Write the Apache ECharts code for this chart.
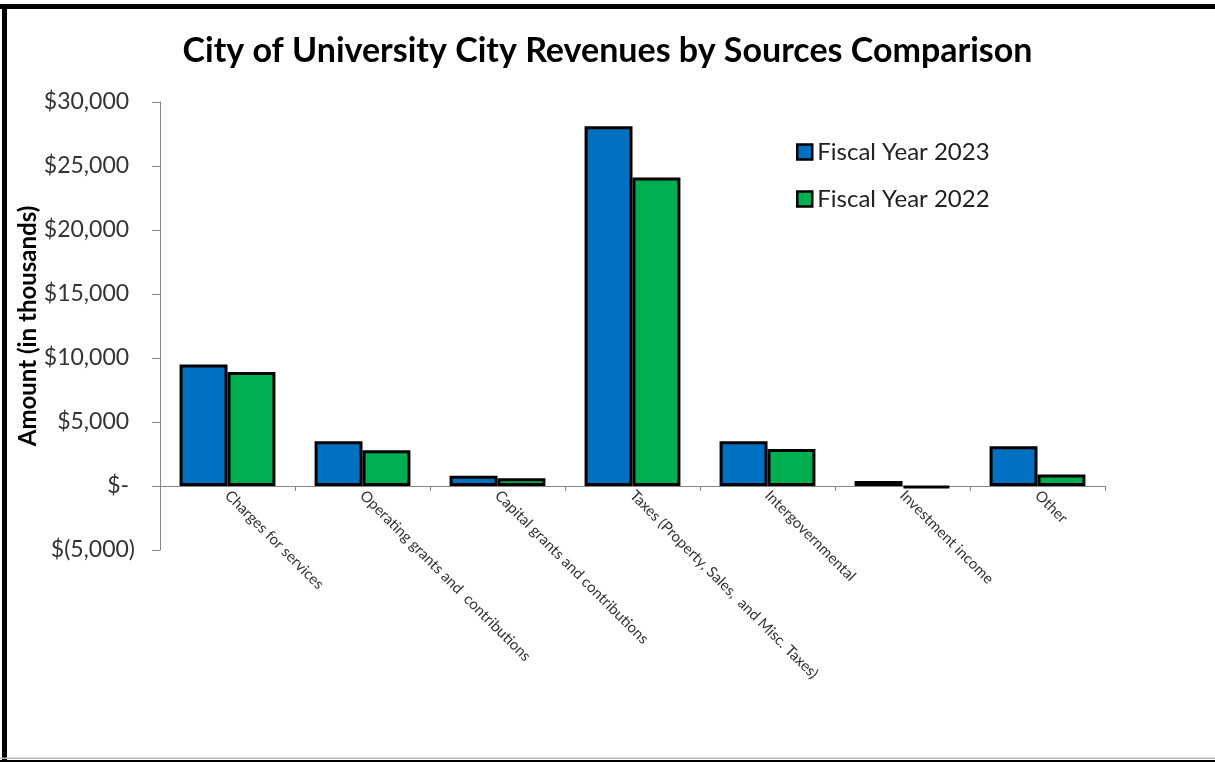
<!DOCTYPE html>
<html>
<head>
<meta charset="utf-8">
<script src="https://cdn.jsdelivr.net/npm/echarts@6/dist/echarts.min.js"></script>
<style>
html,body{margin:0;padding:0;background:#fff;}
#chart{width:1215px;height:762px;}
</style>
</head>
<body>
<div id="chart"></div>
<script>
var titleText = 'City of University City Revenues by Sources Comparison';
var yAxisTitle = 'Amount (in thousands)';
var categories = [
  'Charges for services',
  'Operating grants and  contributions',
  'Capital grants and contributions',
  'Taxes (Property, Sales,  and Misc. Taxes)',
  'Intergovernmental',
  'Investment income',
  'Other'
];
var seriesNames = ['Fiscal Year 2023', 'Fiscal Year 2022'];
var fy2023 = [9500, 3500, 800, 28100, 3500, 400, 3100];
var fy2022 = [8900, 2800, 600, 24100, 2900, -150, 900];
var yTicks = {min: -5000, max: 30000, interval: 5000};

var font = 'Lato, "Open Sans", sans-serif';
var chart = echarts.init(document.getElementById('chart'));

function fmt(v) {
  if (v === 0) return '$- ';
  var s = Math.abs(v).toLocaleString('en-US');
  return v < 0 ? '$(' + s + ')' : '$' + s + ' ';
}

chart.setOption({
  animation: false,
  backgroundColor: '#fff',
  title: {
    text: titleText,
    left: 'center',
    top: 29,
    textStyle: {fontFamily: font, fontSize: 34, fontWeight: 'bold', color: '#000'}
  },
  legend: {
    orient: 'vertical',
    left: 791,
    top: 135,
    itemWidth: 15,
    itemHeight: 15,
    itemGap: 23,
    icon: 'rect',
    itemStyle: {borderColor: '#000', borderWidth: 2.5},
    textStyle: {fontFamily: font, fontSize: 24, color: '#222'},
    data: seriesNames
  },
  grid: {left: 160, right: 110, top: 102, bottom: 212, containLabel: false},
  xAxis: {
    type: 'category',
    data: categories,
    offset: -64,
    axisLine: {onZero: false, lineStyle: {color: '#868686', width: 1}},
    axisTick: {show: true, length: 5, lineStyle: {color: '#868686'}},
    axisLabel: {
      rotate: -45,
      interval: 0,
      margin: 7,
      fontFamily: font,
      fontSize: 15,
      color: '#333'
    },
    splitLine: {show: false}
  },
  yAxis: {
    type: 'value',
    min: yTicks.min,
    max: yTicks.max,
    interval: yTicks.interval,
    name: yAxisTitle,
    nameLocation: 'middle',
    nameGap: 120,
    nameMoveOverlap: false,
    nameTextStyle: {fontFamily: font, fontSize: 24, fontWeight: 'bold', color: '#000'},
    axisLine: {show: true, lineStyle: {color: '#868686', width: 1}},
    axisTick: {show: true, length: 8, lineStyle: {color: '#868686'}},
    axisLabel: {
      margin: 25,
      fontFamily: font,
      fontSize: 23,
      color: '#333',
      formatter: fmt
    },
    splitLine: {show: false}
  },
  series: [
    {
      name: seriesNames[0],
      type: 'bar',
      data: fy2023,
      barGap: '0%',
      barCategoryGap: '29%',
      itemStyle: {color: '#0070C0', borderColor: '#000', borderWidth: 3}
    },
    {
      name: seriesNames[1],
      type: 'bar',
      data: fy2022,
      barGap: '0%',
      barCategoryGap: '29%',
      itemStyle: {color: '#00B050', borderColor: '#000', borderWidth: 3}
    }
  ],
  graphic: [
    {type: 'rect', shape: {x: 0, y: 4, width: 1215, height: 5}, style: {fill: '#000'}, silent: true},
    {type: 'rect', shape: {x: 2, y: 4, width: 5, height: 758}, style: {fill: '#000'}, silent: true},
    {type: 'rect', shape: {x: 0, y: 757.5, width: 1215, height: 1.5}, style: {fill: '#bbb'}, silent: true},
    {type: 'rect', shape: {x: 0, y: 760, width: 1215, height: 2}, style: {fill: '#000'}, silent: true}
  ]
});
</script>
</body>
</html>
